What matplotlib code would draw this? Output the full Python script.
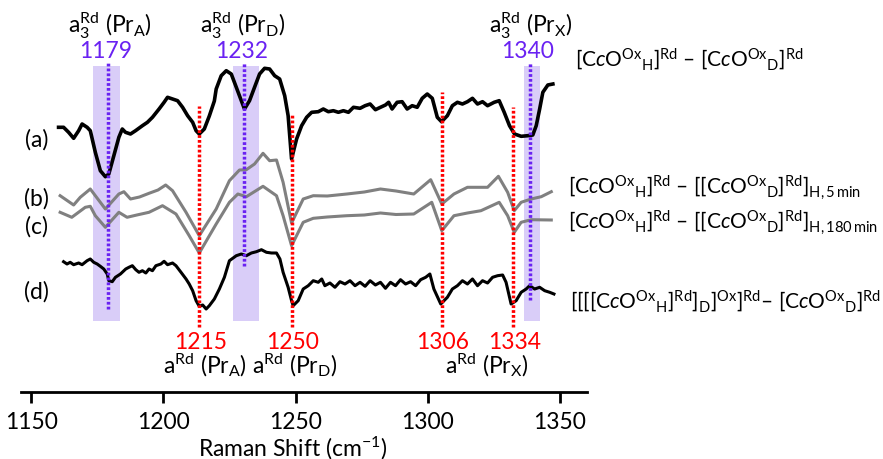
import matplotlib
matplotlib.use("Agg")
import matplotlib.pyplot as plt

# Raman shift (cm-1) and intensity (a.u., traces offset)
shift_a = [1160.4, 1162.3, 1164.2, 1166.1, 1168.0, 1169.3, 1171.2, 1172.4, 1174.3, 1176.2,
           1178.1, 1179.4, 1181.3, 1183.2, 1184.5, 1185.7, 1187.6, 1189.5, 1192.1, 1194.0,
           1195.9, 1198.4, 1200.3, 1201.6, 1203.5, 1205.4, 1207.3, 1209.2, 1211.1, 1212.4,
           1213.6, 1215.5, 1217.4, 1219.3, 1220.0, 1221.9, 1223.8, 1225.7, 1227.6, 1229.5,
           1230.7, 1232.6, 1234.5, 1236.4, 1238.3, 1240.2, 1242.1, 1244.0, 1245.9, 1247.2,
           1248.5, 1250.4, 1252.3, 1254.2, 1256.1, 1258.6, 1260.5, 1262.4, 1264.3, 1266.2,
           1268.1, 1270.0, 1271.9, 1274.4, 1276.3, 1278.2, 1280.2, 1282.1, 1284.0, 1285.2,
           1286.5, 1288.4, 1290.3, 1292.2, 1294.1, 1296.0, 1297.9, 1299.8, 1301.7, 1303.6,
           1305.2, 1307.4, 1309.3, 1311.2, 1313.1, 1315.0, 1316.9, 1318.8, 1320.7, 1322.6,
           1325.1, 1327.0, 1328.9, 1330.9, 1332.8, 1335.3, 1337.8, 1339.7, 1341.0, 1342.3,
           1343.5, 1345.4, 1347.3]
int_a = [273.7, 273.7, 268.7, 262.7, 270.3, 277.0, 273.7, 270.3, 248.7, 230.3,
         224.3, 227.0, 245.3, 263.7, 272.0, 268.7, 267.0, 270.3, 275.3, 278.7,
         283.7, 292.0, 298.7, 303.7, 302.0, 300.3, 293.7, 285.3, 278.7, 270.3,
         267.0, 272.0, 285.0, 300.0, 312.0, 325.3, 330.3, 327.0, 313.7, 300.3,
         292.0, 300.3, 313.7, 327.0, 332.7, 332.0, 325.3, 322.0, 305.3, 285.3,
         242.0, 262.0, 275.3, 283.7, 288.7, 289.3, 292.0, 289.3, 290.3, 288.7,
         290.3, 288.7, 293.7, 292.7, 295.3, 297.0, 291.3, 293.7, 296.0, 298.7,
         292.0, 298.7, 299.3, 292.0, 295.3, 293.7, 302.7, 307.0, 302.7, 283.7,
         279.3, 285.3, 295.3, 298.7, 297.0, 299.3, 302.7, 297.0, 299.3, 295.3,
         298.7, 300.3, 288.7, 275.3, 267.0, 264.7, 265.3, 266.0, 275.3, 292.0,
         308.7, 316.0, 317.0]

shift_b = [1161.0, 1166.1, 1168.6, 1172.4, 1174.3, 1178.1, 1183.2, 1185.1, 1187.6, 1191.0,
           1194.6, 1198.0, 1200.9, 1203.5, 1208.6, 1213.6, 1220.0, 1225.0, 1228.8, 1231.4,
           1234.5, 1237.7, 1240.2, 1242.8, 1245.3, 1248.5, 1252.9, 1256.7, 1262.0, 1269.4,
           1276.0, 1282.1, 1288.0, 1294.7, 1301.1, 1305.3, 1309.9, 1315.0, 1322.6, 1326.7,
           1330.2, 1332.7, 1335.3, 1339.1, 1342.9, 1346.7]
int_b = [205.3, 196.0, 203.7, 212.0, 205.3, 192.0, 207.0, 209.3, 202.0, 204.0,
         207.7, 211.0, 216.0, 210.3, 188.7, 165.3, 192.0, 220.3, 231.0, 231.3,
         237.0, 247.7, 240.3, 241.0, 218.7, 178.0, 202.0, 205.3, 205.0, 207.0,
         209.0, 212.0, 210.0, 207.0, 221.3, 197.0, 207.0, 213.7, 213.7, 224.7,
         208.7, 190.3, 198.7, 202.0, 204.3, 209.3]

shift_c = [1161.0, 1165.4, 1170.5, 1172.4, 1174.3, 1178.1, 1183.2, 1186.3, 1190.0, 1194.6,
           1199.7, 1204.8, 1209.8, 1213.6, 1220.0, 1225.0, 1228.2, 1231.4, 1237.7, 1242.8,
           1245.3, 1248.5, 1252.9, 1256.7, 1262.0, 1269.4, 1276.0, 1282.1, 1288.0, 1294.7,
           1301.5, 1305.3, 1309.9, 1315.0, 1320.1, 1327.0, 1330.2, 1332.7, 1335.3, 1339.1,
           1346.7]
int_c = [188.7, 183.7, 193.7, 194.7, 185.3, 173.7, 188.7, 183.7, 186.0, 188.7,
         195.3, 187.0, 165.3, 148.0, 177.0, 198.7, 207.0, 204.3, 214.7, 205.3,
         185.3, 155.3, 178.7, 182.7, 184.0, 185.3, 186.0, 188.0, 186.5, 187.0,
         198.7, 170.3, 185.3, 188.0, 190.3, 198.7, 185.3, 168.7, 178.7, 181.3,
         181.0]

shift_d = [1162.3, 1163.6, 1164.8, 1166.1, 1168.0, 1169.3, 1171.2, 1172.4, 1173.7, 1175.0,
           1176.2, 1177.5, 1178.8, 1179.4, 1180.7, 1181.9, 1183.8, 1185.8, 1187.0, 1188.3,
           1189.6, 1190.8, 1192.1, 1193.4, 1194.6, 1195.9, 1197.2, 1199.1, 1200.3, 1201.6,
           1203.5, 1204.8, 1206.7, 1208.6, 1209.8, 1211.1, 1212.4, 1213.6, 1214.9, 1216.2,
           1217.4, 1219.3, 1221.2, 1223.1, 1225.0, 1227.6, 1229.5, 1231.4, 1233.3, 1235.2,
           1237.1, 1239.0, 1240.9, 1242.8, 1244.1, 1245.3, 1247.2, 1248.5, 1249.1, 1251.0,
           1252.9, 1254.8, 1256.7, 1258.6, 1259.9, 1261.1, 1263.0, 1264.9, 1266.8, 1268.7,
           1270.6, 1272.5, 1274.4, 1276.3, 1278.2, 1280.2, 1282.1, 1284.0, 1285.9, 1287.8,
           1289.7, 1291.6, 1293.5, 1295.4, 1297.3, 1299.2, 1300.8, 1302.3, 1304.9, 1307.4,
           1309.3, 1311.2, 1313.1, 1315.0, 1316.9, 1318.8, 1320.7, 1322.6, 1324.5, 1326.4,
           1328.3, 1329.6, 1331.5, 1333.4, 1335.3, 1337.2, 1338.5, 1340.4, 1342.3, 1344.2,
           1346.1, 1347.7]
int_d = [139.3, 137.0, 138.7, 136.3, 138.0, 136.3, 140.3, 142.0, 138.7, 137.0,
         134.7, 132.0, 127.0, 120.3, 119.3, 123.7, 127.0, 132.0, 133.7, 135.3,
         131.3, 128.7, 130.3, 128.0, 132.0, 130.3, 135.3, 137.0, 139.7, 136.3,
         138.0, 135.3, 128.7, 122.0, 117.0, 110.3, 100.3, 94.7, 96.0, 92.0,
         95.3, 102.0, 112.0, 123.7, 140.3, 145.3, 147.0, 145.3, 148.0, 149.3,
         151.3, 148.7, 148.0, 148.0, 142.0, 128.7, 113.7, 100.3, 95.3, 100.3,
         112.0, 115.3, 120.3, 118.7, 122.0, 115.3, 118.0, 113.7, 119.3, 117.0,
         120.3, 115.3, 118.7, 114.7, 120.3, 116.0, 118.7, 112.7, 118.7, 115.3,
         121.3, 117.0, 119.3, 115.3, 121.3, 123.7, 127.0, 112.0, 97.0, 103.7,
         112.0, 115.3, 120.3, 117.0, 122.0, 115.3, 120.3, 118.0, 123.7, 125.3,
         126.0, 118.7, 97.0, 100.3, 108.7, 112.0, 115.3, 112.0, 113.7, 110.3,
         108.7, 107.0]

# a3 bands (purple) and a bands (red)
a3_pos = [1179.0, 1230.4, 1338.8]
a3_text = ["1179", "1232", "1340"]
a3_lo = [1173.4, 1226.2, 1336.5]
a3_hi = [1183.5, 1236.0, 1342.5]
a3_line_bottom = [92.0, 135.3, 101.3]
a3_names = [r"a$_3^{\rm Rd}$ (Pr$_{\rm A}$)", r"a$_3^{\rm Rd}$ (Pr$_{\rm D}$)",
            r"a$_3^{\rm Rd}$ (Pr$_{\rm X}$)"]
a3_name_x = [1180.0, 1230.0, 1339.1]

a_pos = [1213.6, 1248.5, 1305.3, 1332.4]
a_text = ["1215", "1250", "1306", "1334"]
a_line_top = [294.7, 287.0, 308.7, 294.3]
a_names = [r"a$^{\rm Rd}$ (Pr$_{\rm A}$)", r"a$^{\rm Rd}$ (Pr$_{\rm D}$)",
           r"a$^{\rm Rd}$ (Pr$_{\rm X}$)"]
a_name_x = [1215.7, 1249.5, 1322.2]

trace_tags = ["(a)", "(b)", "(c)", "(d)"]
tag_y = [262.0, 203.0, 175.3, 110.3]

cco_h = r"[C$\mathit{c}$O$^{\rm Ox}{}_{\rm H}$]$^{\rm Rd}$"
cco_d = r"[C$\mathit{c}$O$^{\rm Ox}{}_{\rm D}$]$^{\rm Rd}$"
trace_names = [
    cco_h + " – " + cco_d,
    cco_h + " – [" + cco_d + r"]$_{\rm H,5\,min}$",
    cco_h + " – [" + cco_d + r"]$_{\rm H,180\,min}$",
    "[[[" + cco_h + r"]$_{\rm D}$]$^{\rm Ox}$]$^{\rm Rd}$– " + cco_d,
]
name_x = [1355.6, 1353.1, 1353.1, 1353.7]
name_y = [335.3, 207.0, 172.0, 93.7]

plt.rcParams['font.family'] = ['Lato', 'DejaVu Sans']
plt.rcParams['mathtext.fontset'] = 'custom'
plt.rcParams['mathtext.rm'] = 'Lato'
plt.rcParams['mathtext.it'] = 'Lato:italic'
plt.rcParams['mathtext.bf'] = 'Lato:bold'
plt.rcParams['mathtext.default'] = 'regular'
fs = 16.5
fs_names = 15
purple = '#6a22f2'
band = '#d9cdf8'

fig = plt.figure(figsize=(8.83, 4.60), dpi=100)
ax = fig.add_axes([21 / 883, 67.5 / 460, 566 / 883, 392.5 / 460])
ax.set_xlim(1146.2, 1360.2)
ax.set_ylim(9.5, 402)

for lo, hi in zip(a3_lo, a3_hi):
    ax.fill_between([lo, hi], 80.3, 334.7, color=band, lw=0, zorder=1)

ax.plot(shift_a, int_a, color='black', lw=2.6, zorder=3)
ax.plot(shift_b, int_b, color='#808080', lw=2.2, zorder=3)
ax.plot(shift_c, int_c, color='#808080', lw=2.2, zorder=3)
ax.plot(shift_d, int_d, color='black', lw=2.2, zorder=3)

for x, bot, t in zip(a3_pos, a3_line_bottom, a3_text):
    ax.plot([x, x], [bot, 338.7], color=purple, lw=2.5, dashes=(0.8, 0.6), zorder=4)
    ax.text(x - 0.9, 343.7, t, color=purple, fontsize=fs, ha='center', va='baseline')
for x, t in zip(a3_name_x, a3_names):
    ax.text(x, 369, t, fontsize=fs, ha='center', va='baseline')

for x, top, t in zip(a_pos, a_line_top, a_text):
    ax.plot([x, x], [74, top], color='#ff0000', lw=2.5, dashes=(0.8, 0.6), zorder=4)
    ax.text(x + 0.4, 52.7, t, color='#ff0000', fontsize=fs, ha='center', va='baseline')
for x, t in zip(a_name_x, a_names):
    ax.text(x, 28.7, t, fontsize=fs, ha='center', va='baseline')

for t, y in zip(trace_tags, tag_y):
    ax.text(1152.0, y, t, fontsize=fs, ha='center', va='center')

for t, x, y in zip(trace_names, name_x, name_y):
    ax.text(x, y, t, fontsize=fs_names, ha='left', va='baseline')

for s in ['top', 'right', 'left']:
    ax.spines[s].set_visible(False)
ax.spines['bottom'].set_linewidth(2)
ax.set_yticks([])
ax.set_xticks([1150, 1200, 1250, 1300, 1350])
ax.tick_params(axis='x', direction='out', length=8, width=2, labelsize=fs, pad=6)
ax.set_xlabel(r"Raman Shift (cm$^{-1}$)", fontsize=fs, va='center')
ax.xaxis.set_label_coords((292.5 - 21) / 566, (392.5 - 448) / 392.5)

fig.savefig('out.png', dpi=100)
